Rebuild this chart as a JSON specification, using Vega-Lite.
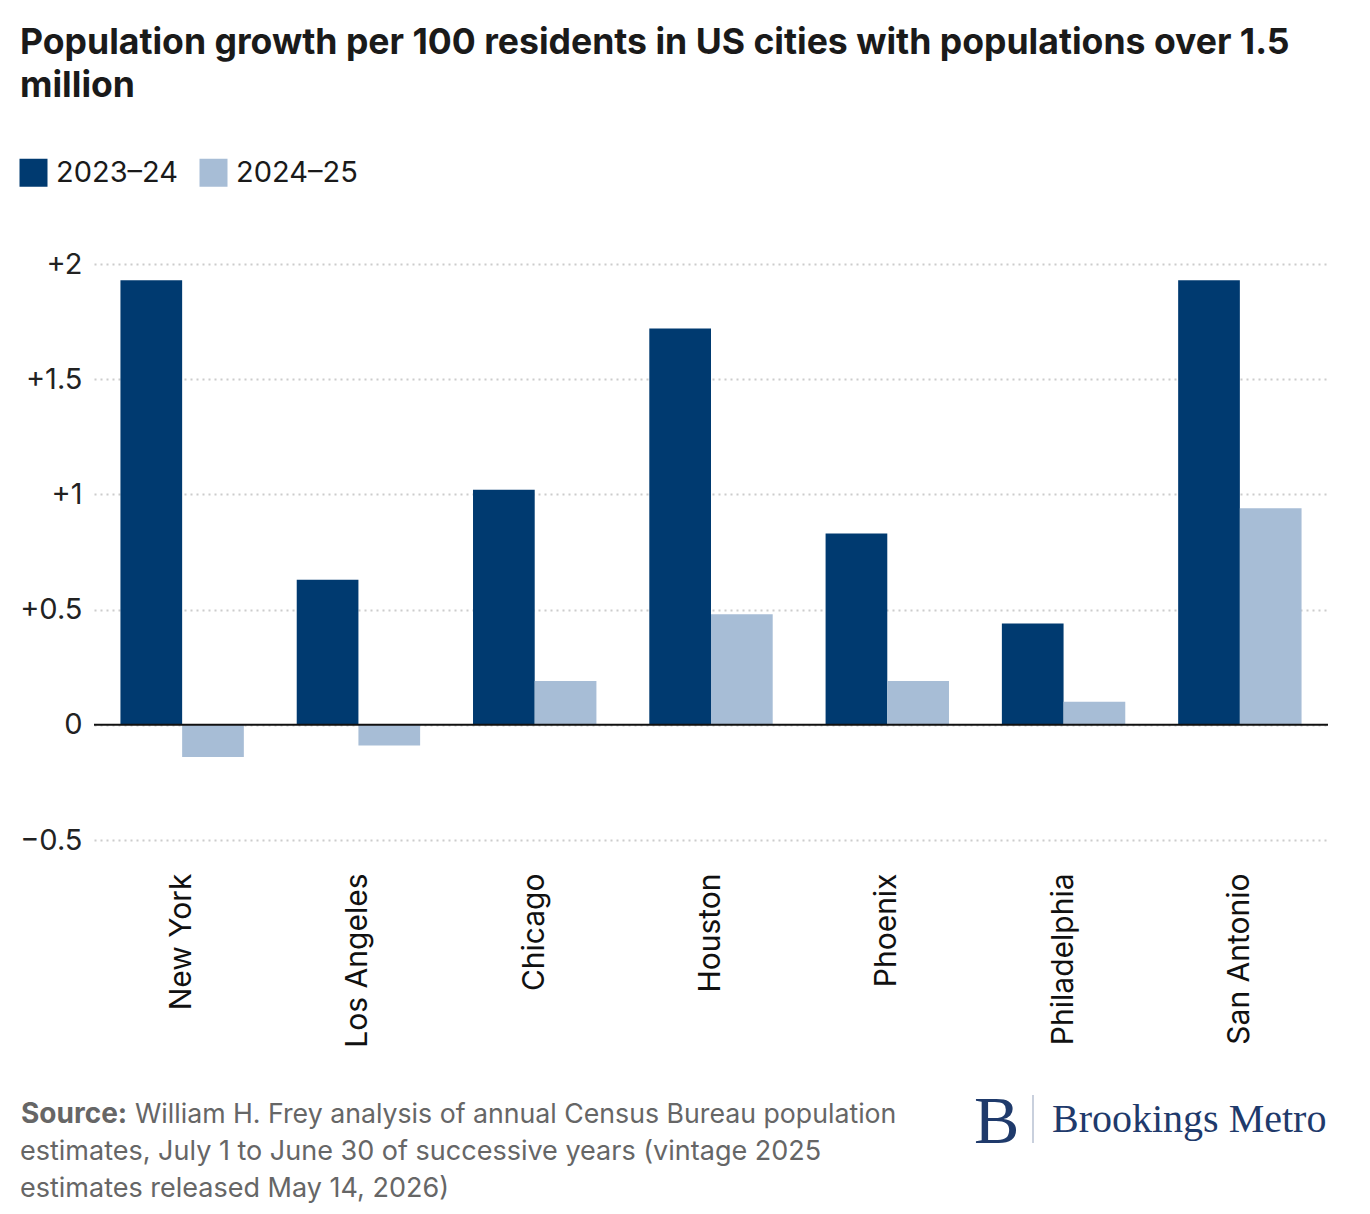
{
  "$schema": "https://vega.github.io/schema/vega-lite/v6.json",
  "autosize": {"type": "none"},
  "width": 1234,
  "height": 576,
  "padding": {"left": 94, "top": 264, "right": 42, "bottom": 374},
  "background": "white",
  "title": {
    "text": ["Population growth per 100 residents in US cities with populations over 1.5", "million"],
    "anchor": "start",
    "frame": "group",
    "dx": -74,
    "offset": 53,
    "font": "Inter",
    "fontSize": 35.6,
    "fontWeight": "bold",
    "color": "#1a1a1a",
    "lineHeight": 43
  },
  "config": {
    "view": {"stroke": null},
    "font": "Inter",
    "axis": {"labelFont": "Inter", "labelColor": "#222222"}
  },
  "layer": [
    {
      "data": {
        "values": [
          {"city": "New York", "period": "2023–24", "growth": 1.93},
          {"city": "New York", "period": "2024–25", "growth": -0.14},
          {"city": "Los Angeles", "period": "2023–24", "growth": 0.63},
          {"city": "Los Angeles", "period": "2024–25", "growth": -0.09},
          {"city": "Chicago", "period": "2023–24", "growth": 1.02},
          {"city": "Chicago", "period": "2024–25", "growth": 0.19},
          {"city": "Houston", "period": "2023–24", "growth": 1.72},
          {"city": "Houston", "period": "2024–25", "growth": 0.48},
          {"city": "Phoenix", "period": "2023–24", "growth": 0.83},
          {"city": "Phoenix", "period": "2024–25", "growth": 0.19},
          {"city": "Philadelphia", "period": "2023–24", "growth": 0.44},
          {"city": "Philadelphia", "period": "2024–25", "growth": 0.10},
          {"city": "San Antonio", "period": "2023–24", "growth": 1.93},
          {"city": "San Antonio", "period": "2024–25", "growth": 0.94}
        ]
      },
      "mark": {"type": "bar"},
      "encoding": {
        "x": {
          "field": "city",
          "type": "nominal",
          "sort": null,
          "scale": {"paddingInner": 0.3, "paddingOuter": 0.15},
          "axis": {
            "title": null,
            "labelAngle": -90,
            "labelAlign": "right",
            "labelBaseline": "middle",
            "labelPadding": 33,
            "labelFontSize": 30,
            "labelColor": "#111111",
            "domain": false,
            "ticks": false
          }
        },
        "xOffset": {"field": "period", "type": "nominal"},
        "y": {
          "field": "growth",
          "type": "quantitative",
          "scale": {"domain": [-0.5, 2], "nice": false, "zero": false},
          "axis": {
            "title": null,
            "values": [-0.5, 0, 0.5, 1, 1.5, 2],
            "format": "~g",
            "labelExpr": "datum.value > 0 ? '+' + datum.label : datum.label",
            "labelFontSize": 29,
            "labelPadding": 12,
            "domain": false,
            "ticks": false,
            "gridColor": "#cccccc",
            "gridDash": [2, 4],
            "gridWidth": 2
          }
        },
        "color": {
          "field": "period",
          "type": "nominal",
          "scale": {"domain": ["2023–24", "2024–25"], "range": ["#003A70", "#A7BDD6"]},
          "legend": {
            "title": null,
            "orient": "none",
            "direction": "horizontal",
            "legendX": -75,
            "legendY": -106,
            "symbolType": "square",
            "symbolSize": 784,
            "symbolStrokeWidth": 0,
            "symbolOpacity": 1,
            "labelFontSize": 29,
            "labelColor": "#1a1a1a",
            "labelOffset": 8,
            "columnPadding": 20
          }
        }
      }
    },
    {
      "data": {"values": [{"baseline": 0}]},
      "mark": {"type": "rule", "color": "#111111", "strokeWidth": 2},
      "encoding": {"y": {"field": "baseline", "type": "quantitative"}}
    },
    {
      "data": {"values": [{"label": "Source:"}]},
      "mark": {"type": "text", "align": "left", "baseline": "alphabetic", "font": "Inter", "fontSize": 28, "fontWeight": "bold", "color": "#666666"},
      "encoding": {"text": {"field": "label"}, "x": {"value": -73}, "y": {"value": 859}}
    },
    {
      "data": {
        "values": [
          {"line": "William H. Frey analysis of annual Census Bureau population"}
        ]
      },
      "mark": {"type": "text", "align": "left", "baseline": "alphabetic", "font": "Inter", "fontSize": 26.7, "color": "#666666"},
      "encoding": {"text": {"field": "line"}, "x": {"value": 41}, "y": {"value": 859}}
    },
    {
      "data": {
        "values": [
          {"line": ["estimates, July 1 to June 30 of successive years (vintage 2025", "estimates released May 14, 2026)"]}
        ]
      },
      "mark": {"type": "text", "align": "left", "baseline": "alphabetic", "font": "Inter", "fontSize": 27, "color": "#666666", "lineHeight": 37},
      "encoding": {"text": {"field": "line"}, "x": {"value": -74}, "y": {"value": 896}}
    },
    {
      "data": {"values": [{"logo": "B"}]},
      "mark": {"type": "text", "align": "left", "baseline": "alphabetic", "font": "Liberation Serif", "fontSize": 68, "color": "#1F3A6B"},
      "encoding": {"text": {"field": "logo"}, "x": {"value": 880}, "y": {"value": 879}}
    },
    {
      "data": {"values": [{"logo": "divider"}]},
      "mark": {"type": "rule", "color": "#C9D0DD", "strokeWidth": 2},
      "encoding": {"x": {"value": 939}, "y": {"value": 831}, "y2": {"value": 879}}
    },
    {
      "data": {"values": [{"logo": "Brookings Metro"}]},
      "mark": {"type": "text", "align": "left", "baseline": "alphabetic", "font": "Liberation Serif", "fontSize": 40, "color": "#1F3A6B"},
      "encoding": {"text": {"field": "logo"}, "x": {"value": 958}, "y": {"value": 868}}
    }
  ]
}
